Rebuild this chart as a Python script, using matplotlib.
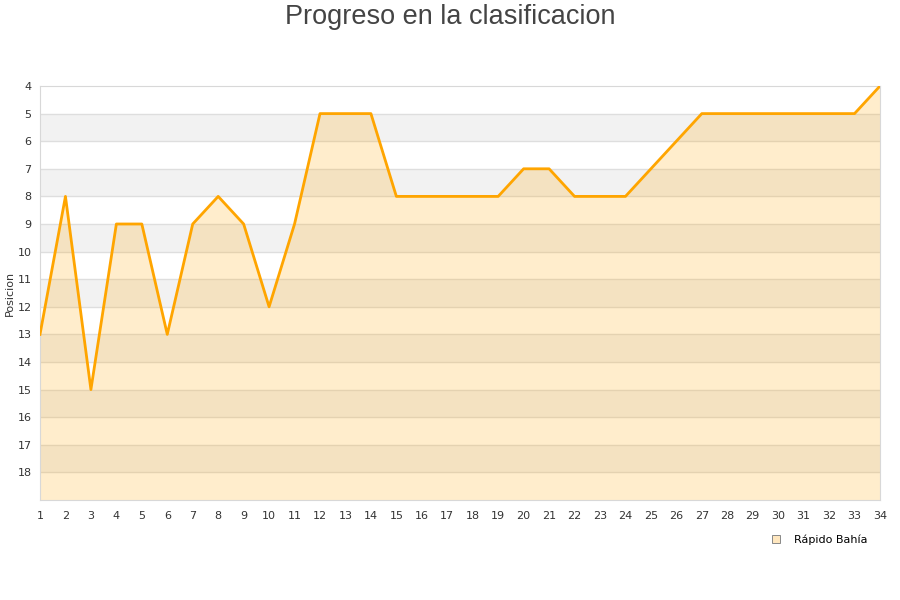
import matplotlib
matplotlib.use("Agg")
import matplotlib.pyplot as plt
from matplotlib.lines import Line2D

# Data
jornadas = list(range(1, 35))
posicion = [13, 8, 15, 9, 9, 13, 9, 8, 9, 12, 9, 5, 5, 5, 8, 8, 8, 8, 8, 7,
            7, 8, 8, 8, 7, 6, 5, 5, 5, 5, 5, 5, 5, 4]
equipo = "Rápido Bahía"
titulo = "Progreso en la clasificacion"
y_min, y_max = 4, 19

fig = plt.figure(figsize=(9, 6), dpi=100)
ax = fig.add_axes([40 / 900, 1 - 500 / 600, 840 / 900, 414 / 600])

# alternating background bands
for y in range(y_min + 1, y_max, 2):
    ax.axhspan(y, y + 1, color="#f2f2f2", zorder=0, lw=0)
for y in range(y_min + 1, y_max):
    ax.axhline(y, color="#dedede", lw=1, zorder=1)

ax.fill_between(jornadas, posicion, y_max, color="#ffa500", alpha=0.2, lw=0, zorder=2)
ax.plot(jornadas, posicion, color="#ffa500", lw=2, zorder=3)

ax.set_xlim(1, 34)
ax.set_ylim(y_max, y_min)
ax.set_xticks(jornadas)
ax.set_yticks(range(y_min, y_max))
ax.tick_params(length=0, labelsize=8, colors="#333333", pad=6)
ax.tick_params(axis="x", pad=8)
for s in ax.spines.values():
    s.set_color("#d8d8d8")
ax.set_ylabel("Posicion", fontsize=8, color="#333333", labelpad=2)

fig.suptitle(titulo, y=0.993, fontsize=19.5, color="#444444", family="Liberation Sans")

handle = Line2D([], [], marker="s", ls="", markersize=6, markerfacecolor="#ffe7bf",
                markeredgecolor="#888888", markeredgewidth=0.7)
fig.legend([handle], [equipo], loc="center", bbox_to_anchor=(0.907, 0.1),
           frameon=False, fontsize=8, handletextpad=0.6)

fig.savefig("out.png", dpi=100)
